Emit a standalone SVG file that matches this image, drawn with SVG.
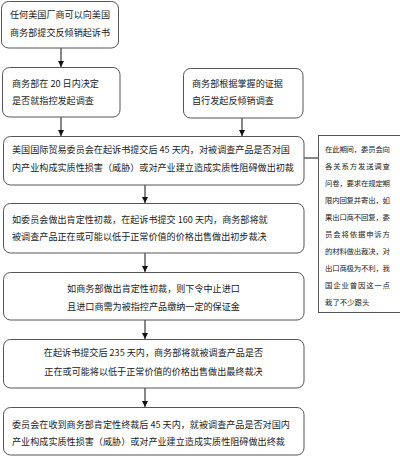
<svg xmlns="http://www.w3.org/2000/svg" width="400" height="459" viewBox="0 0 400 459">
<defs>
<marker id="ah" viewBox="0 0 10 10" refX="10" refY="5" markerWidth="6" markerHeight="6" orient="auto" markerUnits="userSpaceOnUse"><path d="M0,0 L10,5 L0,10 z" fill="#111"/></marker>
<style>
.box{fill:#fff;stroke:#555;stroke-width:1}
.t{font-family:"Noto Sans CJK SC","Noto Sans",sans-serif;font-size:9.1px;fill:#222}
.s{font-family:"Noto Sans CJK SC","Noto Sans",sans-serif;font-size:7.4px;fill:#222}
.c{text-anchor:middle}
.ln{stroke:#111;stroke-width:1;fill:none}
</style>
</defs>
<rect width="400" height="459" fill="#fff"/>
<g id="connectors">
<line class="ln" x1="61" y1="48" x2="61" y2="67" marker-end="url(#ah)"/>
<line class="ln" x1="61" y1="117" x2="61" y2="136" marker-end="url(#ah)"/>
<line class="ln" x1="242" y1="118" x2="242" y2="136" marker-end="url(#ah)"/>
<line class="ln" x1="304" y1="158" x2="318" y2="158"/>
<line class="ln" x1="145" y1="185" x2="145" y2="203" marker-end="url(#ah)"/>
<line class="ln" x1="145" y1="253" x2="145" y2="272" marker-end="url(#ah)"/>
<line class="ln" x1="145" y1="320" x2="145" y2="339" marker-end="url(#ah)"/>
<line class="ln" x1="145" y1="388" x2="145" y2="407" marker-end="url(#ah)"/>
</g>
<g id="n1"><rect class="box" x="1.5" y="1.5" width="117" height="46.5" rx="7"/>
<text class="t" x="10" y="18.3">任何美国厂商可以向美国</text>
<text class="t" x="10" y="36">商务部提交反倾销起诉书</text></g>
<g id="n2"><rect class="box" x="2.5" y="67.5" width="117.5" height="49.5" rx="7"/>
<text class="t" x="12" y="86.5">商务部在 20 日内决定</text>
<text class="t" x="12" y="104.3">是否就指控发起调查</text></g>
<g id="n3"><rect class="box" x="183.5" y="68.5" width="119.5" height="49.5" rx="7"/>
<text class="t" x="192" y="87.3">商务部根据掌握的证据</text>
<text class="t" x="192" y="104.3">自行发起反倾销调查</text></g>
<g id="n4"><rect class="box" x="3.5" y="136.5" width="300.5" height="48.5" rx="7"/>
<text class="t" x="12" y="153.3">美国国际贸易委员会在起诉书提交后 45 天内，对被调查产品是否对国</text>
<text class="t" x="12" y="171.3">内产业构成实质性损害（威胁）或对产业建立造成实质性阻碍做出初裁</text></g>
<g id="n5"><rect class="box" x="3.5" y="203.5" width="300.5" height="49.5" rx="7"/>
<text class="t" x="12" y="223.3">如委员会做出肯定性初裁，在起诉书提交 160 天内，商务部将就</text>
<text class="t" x="12" y="240.3">被调查产品正在或可能以低于正常价值的价格出售做出初步裁决</text></g>
<g id="n6"><rect class="box" x="3.5" y="272.5" width="300.5" height="47.5" rx="7"/>
<text class="t c" x="153.5" y="292.3">如商务部做出肯定性初裁，则下令中止进口</text>
<text class="t c" x="153.5" y="310.3">且进口商需为被指控产品缴纳一定的保证金</text></g>
<g id="n7"><rect class="box" x="3.5" y="339.5" width="300.5" height="48.5" rx="7"/>
<text class="t c" x="153.5" y="356.3">在起诉书提交后 235 天内，商务部将就被调查产品是否</text>
<text class="t c" x="153.5" y="375.3">正在或可能将以低于正常价值的价格出售做出最终裁决</text></g>
<g id="n8"><rect class="box" x="3.5" y="407.5" width="300.5" height="47.5" rx="7"/>
<text class="t" x="12" y="428.3">委员会在收到商务部肯定性终裁后 45 天内，就被调查产品是否对国内</text>
<text class="t" x="12" y="445.3">产业构成实质性损害（威胁）或对产业建立造成实质性阻碍做出终裁</text></g>
<g id="side"><rect x="318.5" y="135.5" width="82" height="177" fill="#fff" stroke="#555" stroke-width="1"/>
<text class="s" x="325" y="152" textLength="65" lengthAdjust="spacing">在此期间，委员会向</text>
<text class="s" x="325" y="169" textLength="65" lengthAdjust="spacing">各关系方发送调查</text>
<text class="s" x="325" y="186" textLength="65" lengthAdjust="spacing">问卷，要求在规定期</text>
<text class="s" x="325" y="203" textLength="65" lengthAdjust="spacing">限内回复并寄出，如</text>
<text class="s" x="325" y="220" textLength="65" lengthAdjust="spacing">果出口商不回复，委</text>
<text class="s" x="325" y="237" textLength="65" lengthAdjust="spacing">员会将依据申诉方</text>
<text class="s" x="325" y="254" textLength="65" lengthAdjust="spacing">的材料做出裁决，对</text>
<text class="s" x="325" y="271" textLength="65" lengthAdjust="spacing">出口商极为不利，我</text>
<text class="s" x="325" y="288" textLength="65" lengthAdjust="spacing">国企业曾因这一点</text>
<text class="s" x="325" y="305">栽了不少跟头</text></g>
</svg>
